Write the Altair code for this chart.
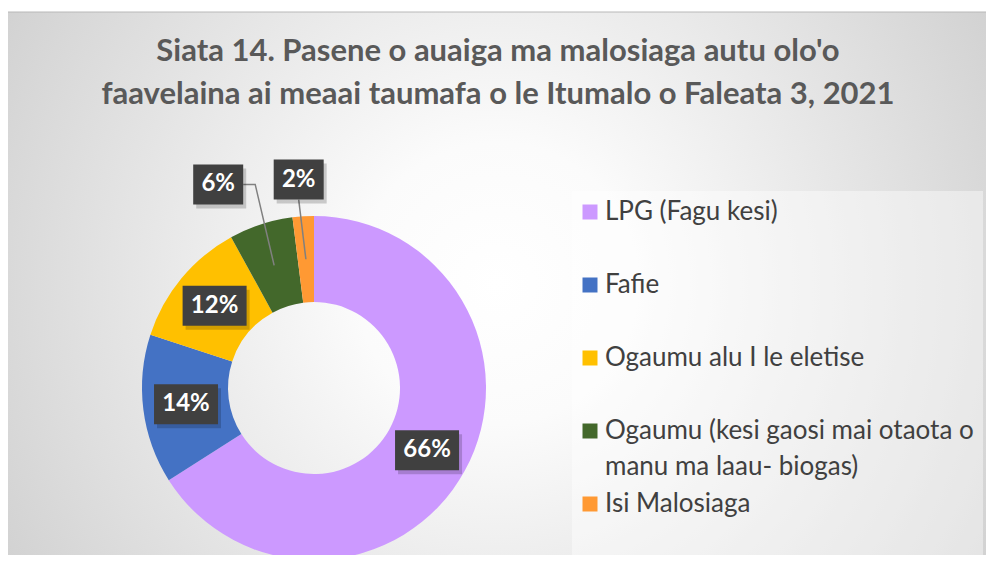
import altair as alt
import numpy as np
import pandas as pd

# ---------------- data ----------------
categories = [
    "LPG (Fagu kesi)",
    "Fafie",
    "Ogaumu alu I le eletise",
    "Ogaumu (kesi gaosi mai otaota o manu ma laau- biogas)",
    "Isi Malosiaga",
]
legend_lines = [
    ["LPG (Fagu kesi)"],
    ["Fafie"],
    ["Ogaumu alu I le eletise"],
    ["Ogaumu (kesi gaosi mai otaota o", "manu ma laau- biogas)"],
    ["Isi Malosiaga"],
]
values = [66, 14, 12, 6, 2]
labels = ["66%", "14%", "12%", "6%", "2%"]
colors = ["#CC99FF", "#4472C4", "#FFC000", "#43682B", "#FF9933"]
title_lines = [
    "Siata 14. Pasene o auaiga ma malosiaga autu olo'o",
    "faavelaina ai meaai taumafa o le Itumalo o Faleata 3, 2021",
]

# ---------------- layout ----------------
W, H = 978, 547
CX, CY = 306, 380
R_OUT, R_IN = 172, 86
R_MID = (R_OUT + R_IN) / 2
# labels placed outside the ring: index -> (radius px, angle deg)
outside = {3: (225, 334.8), 4: (209, 355.8)}
BOX_H = 40
FONT = "Lato"

xs = alt.Scale(domain=[0, W], nice=False, zero=False)
ys = alt.Scale(domain=[H, 0], nice=False, zero=False)
cscale = alt.Scale(domain=categories, range=colors)


def X(f):
    return alt.X(f"{f}:Q", scale=xs, axis=None)


def Y(f):
    return alt.Y(f"{f}:Q", scale=ys, axis=None)


def X2(f):
    return alt.X2(f"{f}:Q")


def Y2(f):
    return alt.Y2(f"{f}:Q")


total = sum(values)
vals = np.array(values, dtype=float)
start = np.cumsum(vals) - vals
mid_deg = (start + vals / 2) / total * 360.0

slices = pd.DataFrame({"category": categories, "value": values, "idx": range(len(values))})

rows, lines = [], []
for i, lab in enumerate(labels):
    a_mid = np.radians(mid_deg[i])
    px, py = CX + R_MID * np.sin(a_mid), CY - R_MID * np.cos(a_mid)
    if i in outside:
        r, a = outside[i]
        a = np.radians(a)
        lx, ly = CX + r * np.sin(a), CY - r * np.cos(a)
    else:
        lx, ly = px, py
    w = 22 + 14 * len(lab)
    rows.append({"label": lab, "lx": lx, "ly": ly,
                 "bx1": lx - w / 2, "bx2": lx + w / 2,
                 "by1": ly - BOX_H / 2, "by2": ly + BOX_H / 2,
                 "sx1": lx - w / 2 + 3, "sx2": lx + w / 2 + 3,
                 "sy1": ly - BOX_H / 2 + 4, "sy2": ly + BOX_H / 2 + 4})
    if i in outside:
        if abs(px - lx) < w / 2:
            pts = [(lx, ly + BOX_H / 2), (px, py)]
        else:
            side = np.sign(px - lx)
            pts = [(lx + side * w / 2, ly), (lx + side * (w / 2 + 12), ly), (px, py)]
        for k, (x, y) in enumerate(pts):
            lines.append({"seg": lab, "k": k, "x": x, "y": y})

lab_df = pd.DataFrame(rows)
line_df = pd.DataFrame(lines)

# legend
LEG_X, LEG_Y0, LEG_STEP, LINE_H = 582, 204, 73, 36
leg_sq, leg_txt = [], []
for i, (cat, ls) in enumerate(zip(categories, legend_lines)):
    yc = LEG_Y0 + i * LEG_STEP
    leg_sq.append({"category": cat, "x1": LEG_X - 7.5, "x2": LEG_X + 7.5, "y1": yc - 7.5, "y2": yc + 7.5})
    for j, t in enumerate(ls):
        leg_txt.append({"t": t, "x": LEG_X + 15, "y": yc + j * LINE_H})
leg_sq = pd.DataFrame(leg_sq)
leg_txt = pd.DataFrame(leg_txt)

title_df = pd.DataFrame({"t": title_lines, "x": [490, 490], "y": [44, 87]})

frame = pd.DataFrame({"x1": [0], "x2": [W], "y1": [4], "y2": [H]})
legbox = pd.DataFrame({"x1": [564], "x2": [975], "y1": [183], "y2": [551]})

# ---------------- layers ----------------
gradient = {
    "gradient": "radial",
    "x1": 0.5, "y1": 0.5, "r1": 0,
    "x2": 0.5, "y2": 0.5, "r2": 0.72,
    "stops": [
        {"offset": 0, "color": "#ffffff"},
        {"offset": 0.2, "color": "#fbfbfb"},
        {"offset": 1, "color": "#c4c4c4"},
    ],
}

bg = alt.Chart(frame).mark_rect(fill=gradient).encode(
    x=X("x1"), x2=X2("x2"), y=Y("y1"), y2=Y2("y2"))
topline = alt.Chart(frame).mark_rule(color="#b8b8b8", strokeWidth=1).encode(
    x=X("x1"), x2=X2("x2"), y=Y("y1"))
legend_box = alt.Chart(legbox).mark_rect(fill="#ffffff", opacity=0.42).encode(
    x=X("x1"), x2=X2("x2"), y=Y("y1"), y2=Y2("y2"))

arcs = alt.Chart(slices).mark_arc(innerRadius=R_IN, outerRadius=R_OUT).encode(
    theta=alt.Theta("value:Q", stack=True),
    color=alt.Color("category:N", scale=cscale, legend=None),
    order=alt.Order("idx:Q"),
    x=alt.value(CX),
    y=alt.value(CY),
)

leaders = alt.Chart(line_df).mark_line(color="#808080", strokeWidth=1.5).encode(
    x=X("x"), y=Y("y"), detail="seg:N", order="k:Q")

shadow = alt.Chart(lab_df).mark_rect(fill="#000000", opacity=0.18).encode(
    x=X("sx1"), x2=X2("sx2"), y=Y("sy1"), y2=Y2("sy2"))
boxes = alt.Chart(lab_df).mark_rect(fill="#404040").encode(
    x=X("bx1"), x2=X2("bx2"), y=Y("by1"), y2=Y2("by2"))
texts = alt.Chart(lab_df).mark_text(
    font=FONT, fontSize=24, fontWeight="bold", color="#ffffff", baseline="middle", align="center"
).encode(x=X("lx"), y=Y("ly"), text="label:N")

leg_squares = alt.Chart(leg_sq).mark_rect().encode(
    x=X("x1"), x2=X2("x2"), y=Y("y1"), y2=Y2("y2"),
    color=alt.Color("category:N", scale=cscale, legend=None))
leg_labels = alt.Chart(leg_txt).mark_text(
    font=FONT, fontSize=26, color="#404040", align="left", baseline="middle"
).encode(x=X("x"), y=Y("y"), text="t:N")

title = alt.Chart(title_df).mark_text(
    font=FONT, fontSize=31, fontWeight="bold", color="#595959", align="center", baseline="middle"
).encode(x=X("x"), y=Y("y"), text="t:N")

chart = alt.layer(
    bg, topline, legend_box, arcs, leaders, shadow, boxes, texts, leg_squares, leg_labels, title
).properties(
    width=W, height=H, padding=0, autosize=alt.AutoSizeParams(type="none"), background="#ffffff"
).configure_view(stroke=None)

chart.save("out.html", embed_options={"renderer": "svg", "actions": False})
